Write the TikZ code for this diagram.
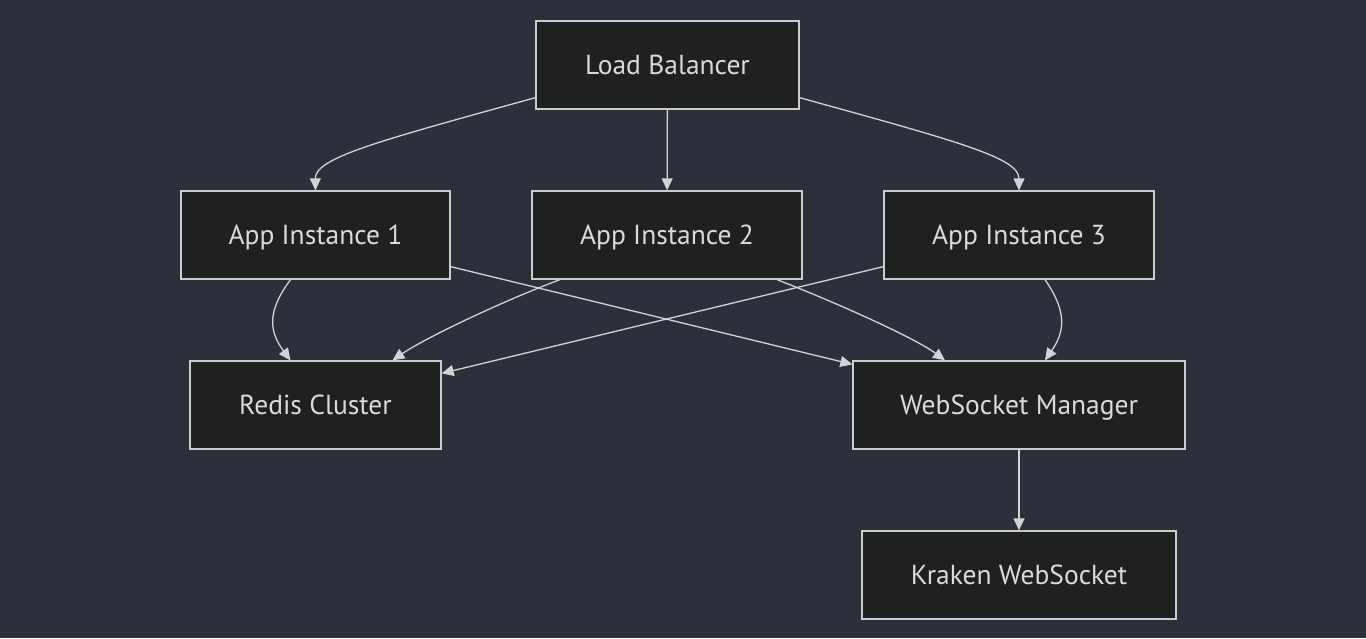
\documentclass[tikz,border=0pt]{standalone}
\usepackage{fontspec}
\setmainfont{PT Sans}
\usepackage{tikz}
\usetikzlibrary{arrows.meta}
\definecolor{bgcol}{HTML}{2B303B}
\definecolor{boxfill}{HTML}{1F2020}
\definecolor{boxline}{HTML}{CCCCCC}
\definecolor{txtcol}{HTML}{DADADA}
\definecolor{linkcol}{HTML}{D3D3D3}
\tikzset{box/.style = {draw = boxline, fill = boxfill, line width = 1.3pt,
                       text = txtcol, minimum height = 88pt, inner sep = 0,
                       text height = 21pt, text depth = 3pt,
                       font = \fontsize{27.5}{32}\selectfont}}
\tikzset{link/.style = {draw = linkcol, line width = 1.3pt,
                        -{Triangle[length = 12pt, width = 11pt]}}}

\begin{document}
\begin{tikzpicture}[x = 1pt, y = -1pt]
      \fill [bgcol] (0, 0) rectangle (1366, 638);
      \useasboundingbox (0, 0) rectangle (1366, 638);
      \node [box, minimum width = 263pt] (lb) at (667.5, 65) {Load Balancer};
      \node [box, minimum width = 269pt] (app1) at (315.5, 235) {App Instance 1};
      \node [box, minimum width = 270pt] (app2) at (667, 235) {App Instance 2};
      \node [box, minimum width = 270pt] (app3) at (1019, 235) {App Instance 3};
      \node [box, minimum width = 251pt] (redis) at (315.5, 405) {Redis Cluster};
      \node [box, minimum width = 332pt] (wsm) at (1019, 405) {WebSocket Manager};
      \node [box, minimum width = 314pt] (kraken) at (1019, 575) {Kraken WebSocket};
      % load balancer to the instances
      \draw [link] ([yshift = 12pt]lb.south west) .. controls (375, 142) and (315, 158) .. (app1.north);
      \draw [link] (lb) -- (app2);
      \draw [link] ([yshift = 12pt]lb.south east) .. controls (960, 142) and (1019, 158) .. (app3.north);
      % instances to redis and the socket manager
      \draw [link] ([xshift = -25pt]app1.south) .. controls (268, 310) and (268, 330) .. ([xshift = -25pt]redis.north);
      \draw [link] ([yshift = 13pt]app1.south east) -- ([yshift = -4pt]wsm.north west);
      \draw [link] ([xshift = -107pt]app2.south) .. controls (505, 300) and (425, 338) .. ([xshift = 77pt]redis.north);
      \draw [link] ([xshift = 110pt]app2.south) .. controls (835, 302) and (915, 338) .. ([xshift = -74pt]wsm.north);
      \draw [link] ([yshift = 13pt]app3.south west) -- ([yshift = -13pt]redis.north east);
      \draw [link] ([xshift = 26pt]app3.south) .. controls (1066, 310) and (1066, 330) .. ([xshift = 26pt]wsm.north);
      \draw [link] (wsm) -- (kraken);
    \end{tikzpicture}
\end{document}
